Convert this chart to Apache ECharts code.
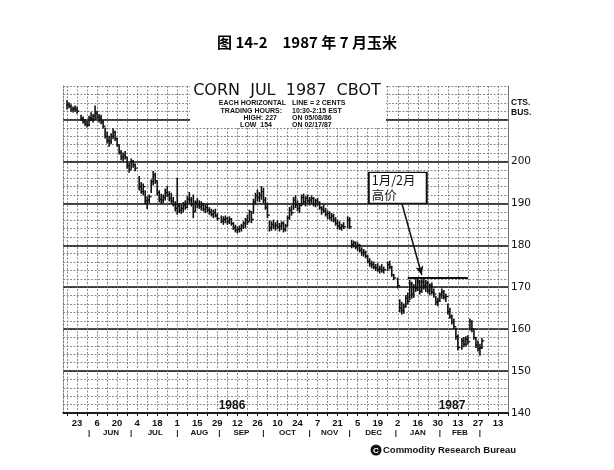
<!DOCTYPE html>
<html><head><meta charset="utf-8">
<script src="https://cdn.jsdelivr.net/npm/echarts@6.0.0/dist/echarts.min.js"></script>
<style>html,body{margin:0;padding:0;background:#fff}#c{width:614px;height:470px}</style>
</head><body><div id="c"></div>
<script>
// first bar sits at this trading-day index of the category axis
const FIRST_INDEX = 2;
const highs = [
214.5,214,213.5,213,213.2,213,null,211,210.6,210,
209.6,210.8,211.6,211.2,213.2,212,211.2,211,209.8,208,
207,206,206.6,207.8,207.2,205.6,203.8,202.6,202,202.4,
201,199.6,200.6,200.2,199.4,null,196.4,195,194.6,193,
191.6,192,195.6,197.6,197.2,195.4,193,192.2,192,193.4,
194,192.8,192.4,191.4,190.4,196,190,189.6,190.2,190.6,
191.6,192.6,191.4,192,190.6,191.2,190.6,190.4,190,189.6,
189.8,189,188.6,188.4,188.6,187.6,null,187,186.8,187,
186.6,186.8,186.4,185.4,184.8,184.4,184.6,185,185.6,186.4,
187.2,188.4,188,191,192.4,193.2,192.6,194,193.6,191.4,
190,185.8,185.6,186,185.4,185.8,185.2,185.6,185.6,185,
187,189,189.4,191.4,191.8,190.6,190,192,192.2,191.6,
192,191.4,191.8,191.4,191,191.2,190.4,189.2,189.6,188.8,
188.2,188,187.6,187.4,186.6,186,185.6,185,185.4,null,
186.8,186.6,181.2,181,180.8,180.6,180.2,179.4,179,178.6,
177.6,176.8,176.2,176,175.4,175.6,175,175.4,174.8,null,
176,176.2,175,173,null,172.2,167,166.4,166,168,
168.6,171.6,171.2,170.6,171.8,172.2,171.6,171.8,172,171.6,
171.4,170.8,171,169.6,167.8,167.4,168.6,169.6,169.2,168.4,
166,165,163.4,162.4,160.2,158.6,null,157.8,158,158.2,
158.4,162.4,162,160,158,157.2,156.4,157.8];
const lows = [
212.5,212.8,212,211.8,212,211.5,null,209.8,209.2,208.6,
208.2,208.5,209.8,209.4,210,210.2,209.4,209,208,205.6,
204.4,203.6,204.2,205.4,205,203.6,201.8,200.4,200.2,200.6,
198.4,197.4,198.2,198.6,197.8,null,193.2,192.4,192,190,
188.8,190.2,192.6,194.4,194.8,192,190.4,190,190.2,190.8,
191.6,190.6,190.2,189.4,188.2,187.4,187.8,187.6,188,188.6,
189,190.2,189.4,186.6,188,189,188.8,188.4,188.2,187.8,
188,187.4,187,186.6,186.8,186,null,185.4,185,185.4,
185,185.2,184.8,183.8,183.2,183,183.2,183.4,184,184.2,
185,185.8,185.4,187.6,189.8,190.6,190.4,191,190.2,188.6,
186.6,183.4,183.6,184,183.6,184,183.4,183.8,183.2,183.4,
184.6,186.2,187.2,188.6,189,188.2,187.8,189.4,189.8,189.4,
190,189.6,190,189.4,189.2,189.6,188.6,187.4,187.8,187,
186.4,186.2,185.8,185.6,184.8,184,183.8,183.6,184,null,
184.2,184,179.4,179.6,179.2,178.8,178.4,177.6,177.4,177,
175.8,175,174.6,174.4,174,173.8,173.4,173.6,173.4,null,
174,174.4,172.6,171.8,null,169.8,164.2,163.6,163.8,165.2,
166,167,167.4,167.6,169,169.2,168.4,168.8,169.6,169,
168.6,168.2,168.4,167.6,165.8,165.6,166.6,167.4,167.2,166.6,
163.6,162.6,161.2,160.2,157.6,155,null,155.2,155.8,156,
156.4,159.8,159.4,157.6,155.6,154.8,153.8,155.4];
const closes = [
213.5,213.2,212.5,212.6,212.4,212,null,210.2,209.5,209,
208.6,210.4,210.2,210.8,211.5,210.6,210.4,209.4,208.4,206,
205,204.8,206,207,205.4,204,202.2,201,201.4,201,
199,198,200,199.2,198.4,null,194,192.8,194,190.6,
190.8,191.6,195.2,196.8,195.4,192.6,191,190.8,191.4,192.6,
192,191.2,190.6,189.8,188.8,189.4,188.4,188.8,189.6,189,
191,190.8,189.8,188,190.2,189.6,189.2,189.6,188.6,189,
188.4,188,187.4,187.8,187,186.4,null,185.8,186.2,186.4,
185.6,186.2,185.2,184.2,183.6,183.8,184,184.6,185.2,186,
185.6,188,186.2,190.4,191.8,191.4,192,192.8,190.8,189,
187.2,184.2,185,184.6,184.8,184.4,184.6,185.2,183.8,184.6,
186.6,188.4,187.8,190.8,189.6,188.8,189.6,191.4,190.4,191.2,
190.6,190.8,191.2,189.8,190.6,190,189,188.6,188.2,187.4,
187.6,186.6,187,186,185.2,184.6,184.2,184.6,184.4,null,
186,184.4,180.2,180.6,179.6,180,178.8,178.2,178.4,177.4,
176.2,175.6,175.4,174.8,174.6,174.2,174.4,174,174.2,null,
175.4,174.8,173,172.2,null,170.4,165,164.4,165.4,167.4,
166.6,170.8,168.2,170,169.6,171.4,169,171.2,170.4,171,
169.2,170.4,168.8,168.4,166.4,166.8,168.2,168.8,167.6,167.8,
164.2,163,161.8,160.6,158.2,155.6,null,157.2,156.4,157.6,
157,161.8,160,158,156.2,155.4,155.6,157.2];
// biweekly Friday tick labels, starting 1986-05-23
const tickDays = ['23','6','20','4','18','1','15','29','12','26','10','24','7','21','5','19','2','16','30','13','27','13'];
const months = ['JUN','JUL','AUG','SEP','OCT','NOV','DEC','JAN','FEB'];
const yLabelValues = [140,150,160,170,180,190,200];
// annotation values
const janFebHigh = 172.3;

// trading-day categories (weekdays)
const categories = [];
for (let t = Date.UTC(1986,4,14); t <= Date.UTC(1987,2,20); t += 86400000) {
  const d = new Date(t); const wd = d.getUTCDay();
  if (wd !== 0 && wd !== 6) categories.push(d.toISOString().slice(0,10));
}
const isFriday = i => new Date(categories[i] + 'T00:00:00Z').getUTCDay() === 5;
const firstLabelIdx = categories.indexOf('1986-05-23');
const tickLabelAt = {};
tickDays.forEach((t, k) => { tickLabelAt[firstLabelIdx + 10 * k] = t; });

const monthStarts = [];
for (let i = 1; i < categories.length; i++) {
  if (categories[i].slice(5,7) !== categories[i-1].slice(5,7)) monthStarts.push(i);
}
const monthLabelAt = {};
monthStarts.forEach(i => { monthLabelAt[i] = '|'; });
months.forEach((m, k) => { monthLabelAt[Math.round((monthStarts[k] + monthStarts[k+1]) / 2)] = m; });

const bars = [];
highs.forEach((h, k) => { if (h != null) bars.push([FIRST_INDEX + k, h, lows[k], closes[k]]); });

const INK = '#111';
const T = 'rgba(0,0,0,0)';
const chart = echarts.init(document.getElementById('c'), null, {renderer: 'canvas'});
chart.setOption({
  animation: false,
  backgroundColor: '#fff',
  title: {
    text: '图 14-2　1987 年 7 月玉米', left: 302, top: 30, textAlign: 'center',
    textStyle: {fontFamily: 'Noto Sans CJK SC', fontSize: 15, fontWeight: 'bold', color: '#000'}
  },
  grid: {left: 63, right: 106, top: 86, bottom: 57, containLabel: false, outerBoundsMode: 'none'},
  xAxis: [{
    type: 'category', data: categories, boundaryGap: false, position: 'bottom',
    axisLine: {show: true, lineStyle: {color: INK, width: 1.5}},
    axisTick: {show: true, interval: i => isFriday(i), length: 3, lineStyle: {color: INK, width: 1}},
    axisLabel: {show: true, interval: i => tickLabelAt[i] !== undefined, formatter: (v, i) => tickLabelAt[i] || '',
      margin: 5, fontFamily: 'Liberation Sans', fontWeight: 'bold', fontSize: 9.5, color: INK},
    splitLine: {show: true, interval: i => isFriday(i), lineStyle: {color: '#808080', width: 0.9, type: [2, 1.5]}}
  }, {
    type: 'category', data: categories, boundaryGap: false, position: 'bottom', offset: 14,
    axisLine: {show: false}, axisTick: {show: false}, splitLine: {show: false},
    axisLabel: {show: true, interval: i => monthLabelAt[i] !== undefined, formatter: (v, i) => monthLabelAt[i] || '',
      margin: 2, fontFamily: 'Liberation Sans', fontWeight: 'bold', fontSize: 8, color: INK}
  }],
  yAxis: [{
    type: 'value', position: 'right', min: 140, max: 218, interval: 2,
    axisLine: {show: true, lineStyle: {color: '#777', width: 1}},
    axisTick: {show: false}, axisLabel: {show: false},
    splitLine: {show: true, lineStyle: {color: '#808080', width: 0.9, type: [2, 1.5]}}
  }, {
    type: 'value', position: 'right', min: 140, max: 218, interval: 10,
    axisLine: {show: false}, axisTick: {show: false},
    axisLabel: {show: true, margin: 3, formatter: v => yLabelValues.indexOf(v) >= 0 ? String(v) : '',
      fontFamily: 'DejaVu Sans', fontSize: 10.5, color: INK},
    splitLine: {show: true, lineStyle: {color: [INK, INK, INK, INK, INK, INK, INK, INK, T], width: 1.7}}
  }, {
    type: 'value', position: 'left', min: 140, max: 218,
    axisLine: {show: true, lineStyle: {color: '#777', width: 1, type: [2, 1.5]}},
    axisTick: {show: false}, axisLabel: {show: false}, splitLine: {show: false}
  }],
  series: [{
    type: 'custom', xAxisIndex: 0, yAxisIndex: 0, data: bars, z: 5,
    encode: {x: 0, y: [1, 2, 3]},
    renderItem: function (params, api) {
      const i = api.value(0);
      const h = api.coord([i, api.value(1)]);
      const l = api.coord([i, api.value(2)]);
      const c = api.coord([i, api.value(3)]);
      return {type: 'group', children: [
        {type: 'line', shape: {x1: h[0], y1: h[1] - 0.5, x2: l[0], y2: l[1] + 0.5}, style: {stroke: INK, lineWidth: 1.6}},
        {type: 'line', shape: {x1: c[0], y1: c[1], x2: c[0] + 2.4, y2: c[1]}, style: {stroke: INK, lineWidth: 1.3}}
      ]};
    },
    markLine: {
      silent: true, animation: false, label: {show: false},
      data: [
        [{coord: [categories[172], janFebHigh], symbol: 'none', lineStyle: {color: INK, width: 1.8, type: 'solid'}},
         {coord: [categories[202], janFebHigh], symbol: 'none'}],
        [{coord: [categories[169], 190.1], symbol: 'none', lineStyle: {color: INK, width: 1.5, type: 'solid'}},
         {coord: [categories[179], 172.9], symbol: 'arrow', symbolSize: [6, 9]}]
      ]
    },
    markPoint: {
      silent: true, animation: false,
      symbol: 'rect', symbolSize: [58, 31],
      itemStyle: {color: '#fff', borderColor: INK, borderWidth: 1.5},
      label: {show: true, position: 'inside', formatter: '1月/2月\n高价', color: INK,
        fontFamily: 'Noto Sans CJK SC', fontSize: 12.5, lineHeight: 15, align: 'left', offset: [-26, 0]},
      data: [{coord: [categories[167], 193.7], value: 0}]
    }
  }],
  graphic: [
    {type: 'rect', z: 10, shape: {x: 190, y: 79, width: 196, height: 49}, style: {fill: '#fff'}},
    {type: 'text', z: 11, x: 287, y: 91, style: {text: 'CORN  JUL  1987  CBOT', font: '16px "DejaVu Sans"', fill: INK, textAlign: 'center', textVerticalAlign: 'middle', align: 'center', verticalAlign: 'middle'}},
    {type: 'text', z: 11, x: 286, y: 103, style: {text: 'EACH HORIZONTAL', font: 'bold 7px "Liberation Sans"', fill: INK, textAlign: 'right', textVerticalAlign: 'middle', align: 'right', verticalAlign: 'middle'}},
    {type: 'text', z: 11, x: 292, y: 103, style: {text: 'LINE = 2 CENTS', font: 'bold 7px "Liberation Sans"', fill: INK, textAlign: 'left', textVerticalAlign: 'middle', align: 'left', verticalAlign: 'middle'}},
    {type: 'text', z: 11, x: 282, y: 110.7, style: {text: 'TRADING HOURS:', font: 'bold 7px "Liberation Sans"', fill: INK, textAlign: 'right', textVerticalAlign: 'middle', align: 'right', verticalAlign: 'middle'}},
    {type: 'text', z: 11, x: 292, y: 110.7, style: {text: '10:30-2:15 EST', font: 'bold 7px "Liberation Sans"', fill: INK, textAlign: 'left', textVerticalAlign: 'middle', align: 'left', verticalAlign: 'middle'}},
    {type: 'text', z: 11, x: 277, y: 117.7, style: {text: 'HIGH: 227', font: 'bold 7px "Liberation Sans"', fill: INK, textAlign: 'right', textVerticalAlign: 'middle', align: 'right', verticalAlign: 'middle'}},
    {type: 'text', z: 11, x: 292, y: 117.7, style: {text: 'ON 05/08/86', font: 'bold 7px "Liberation Sans"', fill: INK, textAlign: 'left', textVerticalAlign: 'middle', align: 'left', verticalAlign: 'middle'}},
    {type: 'text', z: 11, x: 272, y: 125, style: {text: 'LOW  154', font: 'bold 7px "Liberation Sans"', fill: INK, textAlign: 'right', textVerticalAlign: 'middle', align: 'right', verticalAlign: 'middle'}},
    {type: 'text', z: 11, x: 292, y: 125, style: {text: 'ON 02/17/87', font: 'bold 7px "Liberation Sans"', fill: INK, textAlign: 'left', textVerticalAlign: 'middle', align: 'left', verticalAlign: 'middle'}},
    {type: 'text', z: 11, x: 511, y: 103, style: {text: 'CTS.', font: 'bold 8.5px "Liberation Sans"', fill: INK, textAlign: 'left', textVerticalAlign: 'middle', align: 'left', verticalAlign: 'middle'}},
    {type: 'text', z: 11, x: 511, y: 113, style: {text: 'BUS.', font: 'bold 8.5px "Liberation Sans"', fill: INK, textAlign: 'left', textVerticalAlign: 'middle', align: 'left', verticalAlign: 'middle'}},
    {type: 'text', z: 11, x: 232, y: 406, style: {text: '1986', font: 'bold 12px "Liberation Sans"', fill: INK, textAlign: 'center', textVerticalAlign: 'middle', align: 'center', verticalAlign: 'middle'}},
    {type: 'text', z: 11, x: 452, y: 406, style: {text: '1987', font: 'bold 12px "Liberation Sans"', fill: INK, textAlign: 'center', textVerticalAlign: 'middle', align: 'center', verticalAlign: 'middle'}},
    {type: 'circle', z: 11, shape: {cx: 376, cy: 450, r: 5.5}, style: {fill: INK}},
    {type: 'text', z: 12, x: 376, y: 450.5, style: {text: 'C', font: 'bold 8px "Liberation Sans"', fill: '#fff', textAlign: 'center', textVerticalAlign: 'middle', align: 'center', verticalAlign: 'middle'}},
    {type: 'text', z: 11, x: 383, y: 450, style: {text: 'Commodity Research Bureau', font: 'bold 9.5px "Liberation Sans"', fill: INK, textAlign: 'left', textVerticalAlign: 'middle', align: 'left', verticalAlign: 'middle'}}
  ]
});
</script>
</body></html>
